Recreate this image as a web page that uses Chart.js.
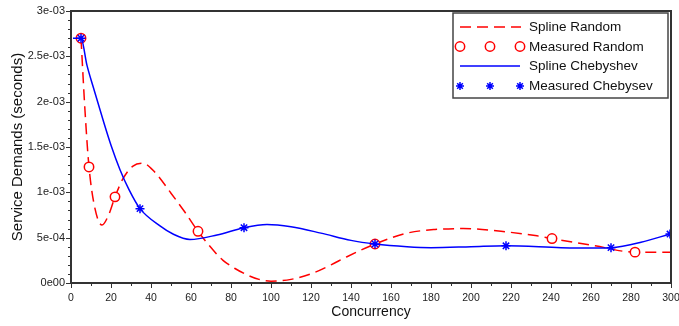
<!DOCTYPE html>
<html>
<head>
<meta charset="utf-8">
<script src="https://cdn.jsdelivr.net/npm/chart.js@4.4.1/dist/chart.umd.min.js"></script>
<style>
  html, body { margin: 0; padding: 0; background: #fff; overflow: hidden; }
</style>
</head>
<body>
<canvas id="chart" width="679" height="326"></canvas>
<script>
// measured points
const measRandomX = [5, 9, 22, 63.5, 152, 240.5, 282];
const measRandomY = [2.70e-3, 1.28e-3, 0.95e-3, 0.57e-3, 0.43e-3, 0.49e-3, 0.34e-3];
const measChebX = [5, 34.5, 86.5, 152, 217.5, 270, 299.5];
const measChebY = [2.70e-3, 0.82e-3, 0.61e-3, 0.43e-3, 0.41e-3, 0.39e-3, 0.54e-3];

// spline curves
const splineRandomX = [5, 7, 9, 12, 15.5, 19, 22, 26, 31, 36, 42, 50, 57, 63.5, 72, 76, 82, 88, 94, 100, 110, 121, 130, 138, 152, 168, 182, 196, 215, 233, 240.5, 262, 282, 300];
const splineRandomY = [2.70e-3, 1.90e-3, 1.28e-3, 0.82e-3, 0.64e-3, 0.76e-3, 0.95e-3, 1.15e-3, 1.29e-3, 1.32e-3, 1.22e-3, 0.99e-3, 0.78e-3, 0.57e-3, 0.34e-3, 0.25e-3, 0.16e-3, 0.09e-3, 0.04e-3, 0.02e-3, 0.04e-3, 0.11e-3, 0.20e-3, 0.29e-3, 0.43e-3, 0.55e-3, 0.59e-3, 0.60e-3, 0.57e-3, 0.52e-3, 0.49e-3, 0.41e-3, 0.34e-3, 0.34e-3];
const splineChebX = [1, 5, 8, 11, 16, 20, 24.5, 29, 34.5, 44.5, 51, 59.5, 73, 86.5, 98, 110, 125, 140, 152, 168, 180, 200, 217.5, 245, 260, 270, 285, 299.5];
const splineChebY = [2.70e-3, 2.70e-3, 2.40e-3, 2.17e-3, 1.80e-3, 1.52e-3, 1.25e-3, 1.03e-3, 0.82e-3, 0.63e-3, 0.54e-3, 0.48e-3, 0.53e-3, 0.61e-3, 0.645e-3, 0.62e-3, 0.55e-3, 0.47e-3, 0.43e-3, 0.40e-3, 0.39e-3, 0.40e-3, 0.41e-3, 0.39e-3, 0.385e-3, 0.39e-3, 0.45e-3, 0.54e-3];

const xTickLabels = ['0', '20', '40', '60', '80', '100', '120', '140', '160', '180', '200', '220', '240', '260', '280', '300'];
const yTickLabels = ['0e00', '5e-04', '1e-03', '1.5e-03', '2e-03', '2.5e-03', '3e-03'];
const legendLabels = ['Spline Random', 'Measured Random', 'Spline Chebyshev', 'Measured Chebysev'];

const RED = '#ff0000';
const BLUE = '#0000ff';
const FONT = "'Liberation Sans', Arial, sans-serif";

function toPoints(xs, ys) {
    return xs.map((x, i) => ({ x: x, y: ys[i] }));
}

// box round the plot, minor/major ticks and the legend
const framePlugin = {
    id: 'frame',
    afterDraw(chart) {
        let ctx = chart.ctx;
        let a = chart.chartArea;
        let xs = chart.scales.x;
        let ys = chart.scales.y;
        ctx.save();
        ctx.strokeStyle = '#333';
        ctx.lineWidth = 2;
        ctx.strokeRect(a.left, a.top, a.right - a.left, a.bottom - a.top);

        ctx.lineWidth = 1;
        ctx.beginPath();
        for (let v = 0; v <= 300; v += 10) {
            let px = Math.round(xs.getPixelForValue(v)) + 0.5;
            let len = v % 20 === 0 ? 5 : 3;
            ctx.moveTo(px, a.bottom);
            ctx.lineTo(px, a.bottom + len);
        }
        for (let k = 0; k <= 30; k++) {
            let py = Math.round(ys.getPixelForValue(k * 1e-4)) + 0.5;
            let len = k % 5 === 0 ? 5 : 3;
            ctx.moveTo(a.left, py);
            ctx.lineTo(a.left - len, py);
        }
        ctx.stroke();

        // legend
        let bx = a.right - 218, by = a.top + 2, bw = 215, bh = 85;
        ctx.fillStyle = '#fff';
        ctx.fillRect(bx, by, bw, bh);
        ctx.strokeStyle = '#444';
        ctx.lineWidth = 1.5;
        ctx.strokeRect(bx, by, bw, bh);

        let rows = [by + 14, by + 33.5, by + 53, by + 73];
        let sx = [bx + 7, bx + 37, bx + 67];

        ctx.lineWidth = 1.5;
        ctx.strokeStyle = RED;
        ctx.setLineDash([11, 6]);
        ctx.beginPath();
        ctx.moveTo(sx[0], rows[0]);
        ctx.lineTo(sx[2] + 1, rows[0]);
        ctx.stroke();
        ctx.setLineDash([]);

        sx.forEach(cx => {
            ctx.beginPath();
            ctx.arc(cx, rows[1], 4.7, 0, Math.PI * 2);
            ctx.stroke();
        });

        ctx.strokeStyle = BLUE;
        ctx.beginPath();
        ctx.moveTo(sx[0], rows[2]);
        ctx.lineTo(sx[2], rows[2]);
        ctx.stroke();

        sx.forEach(cx => {
            let r = 4;
            ctx.beginPath();
            for (let j = 0; j < 4; j++) {
                let ang = j * Math.PI / 4;
                ctx.moveTo(cx - r * Math.cos(ang), rows[3] - r * Math.sin(ang));
                ctx.lineTo(cx + r * Math.cos(ang), rows[3] + r * Math.sin(ang));
            }
            ctx.stroke();
        });

        ctx.fillStyle = '#111';
        ctx.font = '13.5px ' + FONT;
        ctx.textBaseline = 'middle';
        ctx.textAlign = 'left';
        legendLabels.forEach((t, i) => ctx.fillText(t, bx + 76, rows[i] + 0.5));
        ctx.restore();
    }
};

new Chart(document.getElementById('chart'), {
    type: 'line',
    data: {
        datasets: [{
            label: legendLabels[0],
            data: toPoints(splineRandomX, splineRandomY),
            borderColor: RED,
            borderWidth: 1.5,
            borderDash: [11, 6],
            pointRadius: 0,
            cubicInterpolationMode: 'monotone',
            order: 3
        }, {
            label: legendLabels[1],
            data: toPoints(measRandomX, measRandomY),
            showLine: false,
            pointStyle: 'circle',
            pointRadius: 4.7,
            pointBorderWidth: 1.5,
            pointBorderColor: RED,
            pointBackgroundColor: '#fff',
            order: 2
        }, {
            label: legendLabels[2],
            data: toPoints(splineChebX, splineChebY),
            borderColor: BLUE,
            borderWidth: 1.5,
            pointRadius: 0,
            cubicInterpolationMode: 'monotone',
            order: 1
        }, {
            label: legendLabels[3],
            data: toPoints(measChebX, measChebY),
            showLine: false,
            pointStyle: 'star',
            pointRadius: 4.5,
            pointBorderWidth: 1.5,
            pointBorderColor: BLUE,
            pointBackgroundColor: BLUE,
            order: 0
        }]
    },
    options: {
        responsive: false,
        animation: false,
        devicePixelRatio: 1,
        layout: { padding: { top: 11, right: 8, left: 0, bottom: 0 } },
        plugins: {
            legend: { display: false },
            tooltip: { enabled: false }
        },
        scales: {
            x: {
                type: 'linear',
                min: 0,
                max: 300,
                afterFit: s => { s.height = 43; s.paddingLeft = 0; s.paddingRight = 0; },
                border: { display: false },
                grid: { display: false, drawTicks: false },
                ticks: {
                    stepSize: 20,
                    autoSkip: false,
                    maxRotation: 0,
                    padding: 9,
                    color: '#222',
                    font: { family: FONT, size: 10.5 },
                    callback: (v, i) => xTickLabels[i]
                },
                title: {
                    display: true,
                    text: 'Concurrency',
                    color: '#111',
                    font: { family: FONT, size: 14 },
                    padding: { top: 0, bottom: 5 }
                }
            },
            y: {
                type: 'linear',
                min: 0,
                max: 3e-3,
                afterFit: s => { s.width = 71; s.paddingTop = 0; s.paddingBottom = 0; },
                border: { display: false },
                grid: { display: false, drawTicks: false },
                ticks: {
                    stepSize: 5e-4,
                    autoSkip: false,
                    padding: 6,
                    color: '#222',
                    font: { family: FONT, size: 11 },
                    callback: (v, i) => yTickLabels[i]
                },
                title: {
                    display: true,
                    text: 'Service Demands (seconds)',
                    color: '#111',
                    font: { family: FONT, size: 15 },
                    padding: { top: 9, bottom: 0 }
                }
            }
        }
    },
    plugins: [framePlugin]
});
</script>
</body>
</html>
